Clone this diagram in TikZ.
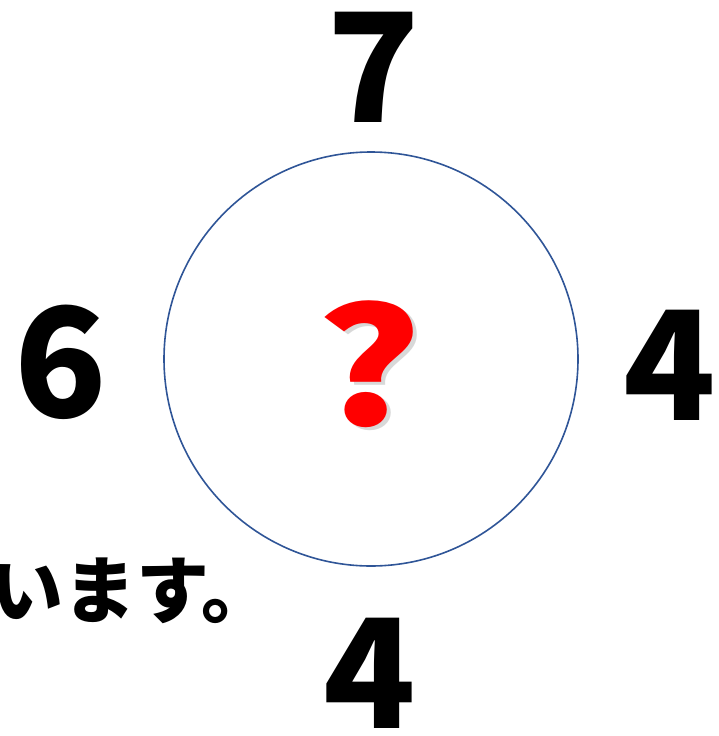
\documentclass[tikz,border=0pt]{standalone}
\usepackage{fontspec}
\newfontfamily\jp{Noto Sans CJK JP}
\definecolor{ringblue}{HTML}{2F5597}
\begin{document}
\begin{tikzpicture}[x=1pt,y=1pt,
  num/.style={inner sep=0pt, anchor=base, font=\jp\bfseries\fontsize{152}{152}\selectfont},
  qm/.style={inner sep=0pt, anchor=base, text=red, xscale=1.25, font=\jp\bfseries\fontsize{160}{160}\selectfont},
  jtext/.style={inner sep=0pt, anchor=base west, font=\jp\bfseries\fontsize{73}{73}\selectfont}]
\useasboundingbox (0,0) rectangle (718,-736);
\clip (0,0) rectangle (718,-736);
\node[circle, draw=ringblue, line width=1.6pt, minimum size=414pt, inner sep=0pt] (ring) at (371,-359) {};
\node[num] (top) at (374,-122) {7};
\node[num] (left) at (61,-417) {6};
\node[num] (right) at (670,-420) {4};
\node[num] (bottom) at (370,-728) {4};
\node[qm, text=black!30, opacity=0.5] (qshadow) at (373,-428) {?};
\node[qm] (q) at (369,-425) {?};
\node[jtext] (msg) at (-10,-617) {います。};
\end{tikzpicture}
\end{document}
